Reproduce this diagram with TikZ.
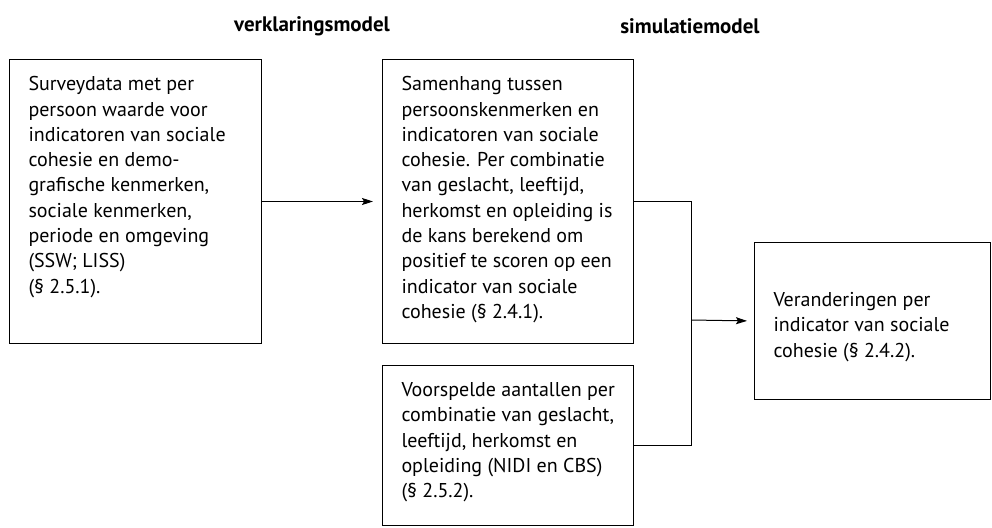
\documentclass[tikz,border=0pt]{standalone}
\usepackage{fontspec}
\setmainfont{PT Sans}
\usetikzlibrary{arrows.meta}
\begin{document}
\begin{tikzpicture}[x=1pt,y=-1pt,
    blok/.style={draw, line width=1pt, anchor=north west, inner xsep=0pt, inner ysep=17pt, font=\fontsize{20}{25.3}\selectfont},
    kop/.style={font=\bfseries\fontsize{21}{24}\selectfont},
    lijn/.style={line width=1pt},
    pijl/.style={line width=1pt, -{Stealth[length=11pt,width=7pt,inset=2pt]}}]
    \useasboundingbox (0,0) rectangle (992,527);
    % koppen
    \node[kop] (kopverklaring) at (312,26) {verklaringsmodel};
    \node[kop] (kopsimulatie) at (690,26) {simulatiemodel};
    % blokken
    \node[blok] (survey) at (9,59) {\parbox[t][250pt][t]{252pt}{\raggedright\leftskip=19pt
        Surveydata met per\\ persoon waarde voor\\ indicatoren van sociale\\ cohesie en demo-\\
        grafische kenmerken,\\ sociale kenmerken,\\ periode en omgeving\\ (SSW; LISS)\\ (§ 2.5.1).}};
    \node[blok] (samenhang) at (382,59) {\parbox[t][250pt][t]{251pt}{\raggedright\leftskip=19pt
        Samenhang tussen\\ persoonskenmerken en\\ indicatoren van sociale\\ cohesie. Per combinatie\\
        van geslacht, leeftijd,\\ herkomst en opleiding is\\ de kans berekend om\\
        positief te scoren op een\\ indicator van sociale\\ cohesie (§ 2.4.1).}};
    \node[blok] (voorspeld) at (382,365) {\parbox[t][126pt][t]{251pt}{\raggedright\leftskip=19pt
        Voorspelde aantallen per\\ combinatie van geslacht,\\ leeftijd, herkomst en\\
        opleiding (NIDI en CBS)\\ (§ 2.5.2).}};
    \node[blok] (verandering) at (754,242) {\parbox[t][123pt][t]{236pt}{\raggedright\leftskip=19pt
        \vspace*{33pt}Veranderingen per\\ indicator van sociale\\ cohesie (§ 2.4.2).}};
    % verbindingen
    \coordinate (knik) at (691,320);
    \draw[pijl, shorten >=9pt] (survey.east) -- (samenhang.west);
    \draw[lijn] (samenhang.east) -| (knik) |- (voorspeld.east);
    \draw[pijl, shorten >=7pt] (knik) -- (verandering.west);
\end{tikzpicture}
\end{document}
